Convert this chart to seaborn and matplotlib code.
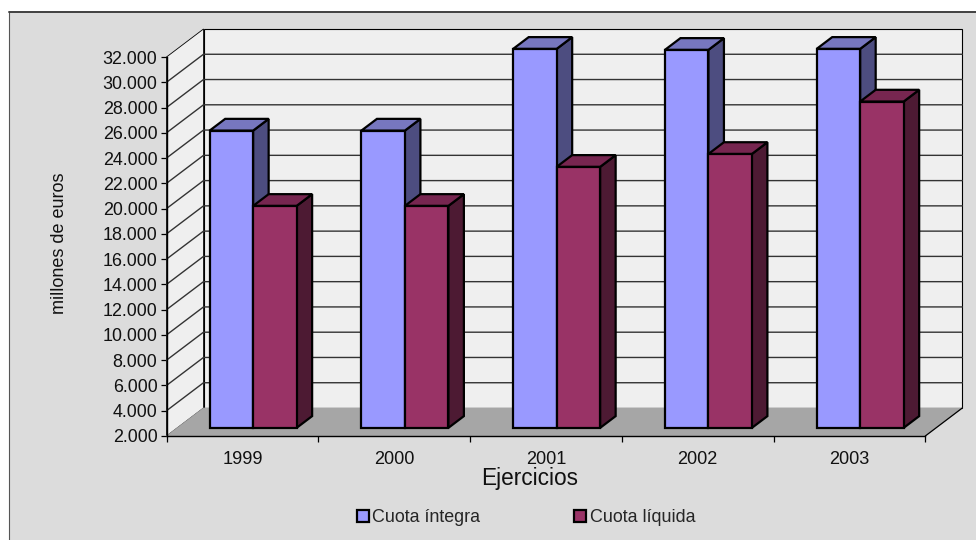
import matplotlib
matplotlib.use("Agg")
import matplotlib.pyplot as plt
import pandas as pd
import seaborn as sns
from matplotlib.patches import Polygon, Rectangle
from matplotlib.transforms import Affine2D, IdentityTransform

# datos
EJERCICIOS = ["1999", "2000", "2001", "2002", "2003"]
CUOTA_INTEGRA = [25530, 25530, 32000, 31920, 32000]
CUOTA_LIQUIDA = [19570, 19570, 22660, 23680, 27830]
Y_TICKS = [2000, 4000, 6000, 8000, 10000, 12000, 14000, 16000, 18000, 20000,
           22000, 24000, 26000, 28000, 30000, 32000]
Y_LABELS = ["2.000", "4.000", "6.000", "8.000", "10.000", "12.000", "14.000", "16.000",
            "18.000", "20.000", "22.000", "24.000", "26.000", "28.000", "30.000", "32.000"]
SERIES = ["Cuota íntegra", "Cuota líquida"]

# colores: frente, techo, lateral
COLORS = {"Cuota íntegra": ("#9999FF", "#7777BF", "#4D4D80"),
          "Cuota líquida": ("#993366", "#772650", "#4D1A33")}

W, H = 976, 540
DEPTH_X, DEPTH_Y = 37, 28  # profundidad del suelo en pixeles
BAR_D0, BAR_D1 = 0.29, 0.71

sns.set_theme(style="white")
plt.rcParams["font.family"] = ["Liberation Sans", "DejaVu Sans"]

df = pd.DataFrame({
    "ejercicio": EJERCICIOS * 2,
    "valor": CUOTA_INTEGRA + CUOTA_LIQUIDA,
    "serie": [SERIES[0]] * 5 + [SERIES[1]] * 5,
})

fig = plt.figure(figsize=(W / 100, H / 100), dpi=100, facecolor="white")
ax = fig.add_axes([166.5 / W, (H - 436) / H, (925.3 - 166.5) / W, (436 - 57) / H])
ax.patch.set_visible(False)

# marco gris del grafico: arriba mas grueso que a la izquierda
fig.add_artist(Rectangle((9, 0), W, H - 12, transform=IdentityTransform(),
                         facecolor="#DCDCDC", edgecolor="none", zorder=-5))
fig.add_artist(plt.Line2D([9, 9], [0, H - 12], transform=IdentityTransform(),
                          color="#555555", lw=0.8, zorder=-4))
fig.add_artist(plt.Line2D([9, W], [H - 12, H - 12], transform=IdentityTransform(),
                          color="#404040", lw=1.4, zorder=-4))

sns.barplot(data=df, x="ejercicio", y="valor", hue="serie", hue_order=SERIES,
            palette={s: COLORS[s][0] for s in SERIES}, saturation=1, width=0.573, gap=0,
            errorbar=None, edgecolor="black", linewidth=1.6, ax=ax)

ax.set_xlim(-0.5, 4.5)
ax.set_ylim(Y_TICKS[0], Y_TICKS[-1])
base = Y_TICKS[0]
top = Y_TICKS[-1]


def proj(x, v, d):
    # punto del dato a pixeles, desplazado d en profundidad
    px, py = ax.transData.transform((x, v))
    return px + d * DEPTH_X, py + d * DEPTH_Y


def face(points, **kws):
    poly = Polygon([proj(*p) for p in points], closed=True, transform=IdentityTransform(),
                   clip_on=False, **kws)
    ax.add_patch(poly)


# seaborn deja parches vacios para la leyenda, solo interesan las barras
bars = [p for p in ax.patches if p.get_height() > 0]

# paredes y suelo
face([(-0.5, base, 1), (4.5, base, 1), (4.5, top, 1), (-0.5, top, 1)],
     facecolor="#EFEFEF", edgecolor="black", linewidth=0.8, zorder=0.5)
face([(-0.5, base, 0), (-0.5, base, 1), (-0.5, top, 1), (-0.5, top, 0)],
     facecolor="#EFEFEF", edgecolor="black", linewidth=0.6, zorder=0.5)
face([(-0.5, base, 0), (4.5, base, 0), (4.5, base, 1), (-0.5, base, 1)],
     facecolor="#A6A6A6", edgecolor="#A6A6A6", linewidth=0.5, zorder=1.5)
ax.plot(*zip(proj(4.5, base, 0), proj(4.5, base, 1)), transform=IdentityTransform(),
        color="black", lw=0.9, clip_on=False, zorder=1.6)

# rejilla en la pared de fondo y la lateral
for v in Y_TICKS[1:-1]:
    p0, p1, p2 = proj(-0.5, v, 0), proj(-0.5, v, 1), proj(4.5, v, 1)
    ax.plot([p0[0], p1[0], p2[0]], [p0[1], p1[1], p2[1]], transform=IdentityTransform(),
            color="#333333", lw=1.0, clip_on=False, zorder=1)

# barras con sus caras laterales y techo
for i, bar in enumerate(bars):
    serie = SERIES[i // len(EJERCICIOS)]
    _, roof, side = COLORS[serie]
    z = 3 + 2 * (i // len(EJERCICIOS))
    val = bar.get_height()
    x0, x1 = bar.get_x(), bar.get_x() + bar.get_width()
    bar.set_y(base)
    bar.set_height(val - base)
    dx, dy = BAR_D0 * DEPTH_X, BAR_D0 * DEPTH_Y
    bar.set_transform(ax.transData + Affine2D().translate(dx, dy))
    bar.set_clip_on(False)
    bar.set_zorder(z + 1)
    bar.set_joinstyle("miter")
    edge = dict(edgecolor="black", linewidth=1.6, joinstyle="miter", zorder=z)
    face([(x1, base, BAR_D0), (x1, base, BAR_D1), (x1, val, BAR_D1), (x1, val, BAR_D0)],
         facecolor=side, **edge)
    face([(x0, val, BAR_D0), (x1, val, BAR_D0), (x1, val, BAR_D1), (x0, val, BAR_D1)],
         facecolor=roof, **edge)

# ejes
sns.despine(ax=ax)
for name in ["left", "bottom"]:
    ax.spines[name].set_color("black")
    ax.spines[name].set_linewidth(1)
    ax.spines[name].set_zorder(2)
ax.set_yticks(Y_TICKS, Y_LABELS)
ax.set_xticks(range(5), EJERCICIOS)
ax.set_xticks([i - 0.5 for i in range(6)], minor=True)
ax.tick_params(axis="y", left=True, length=4.5, width=0.9, color="black", pad=2,
               labelsize=12.9, labelcolor="#111111")
ax.tick_params(axis="x", which="major", length=0, pad=11, labelsize=13.1, labelcolor="#111111")
ax.tick_params(axis="x", which="minor", bottom=True, length=4.5, width=0.9, color="black")

ax.set_xlabel("")
ax.set_ylabel("")
fig.text(530 / W, (H - 478) / H, "Ejercicios", ha="center", va="center",
         fontsize=16.3, color="#111111")
fig.text(59 / W, (H - 243.5) / H, "millones de euros", ha="center", va="center",
         rotation=90, fontsize=13, color="#111111")

sns.move_legend(ax, "center", bbox_to_anchor=(526 / W, (H - 517.5) / H),
                bbox_transform=fig.transFigure, ncol=2, frameon=False, title=None,
                fontsize=12.9, handlelength=0.67, handleheight=0.67, handletextpad=0.2,
                columnspacing=5.25)

fig.savefig("out.png", dpi=100, facecolor=fig.get_facecolor())
